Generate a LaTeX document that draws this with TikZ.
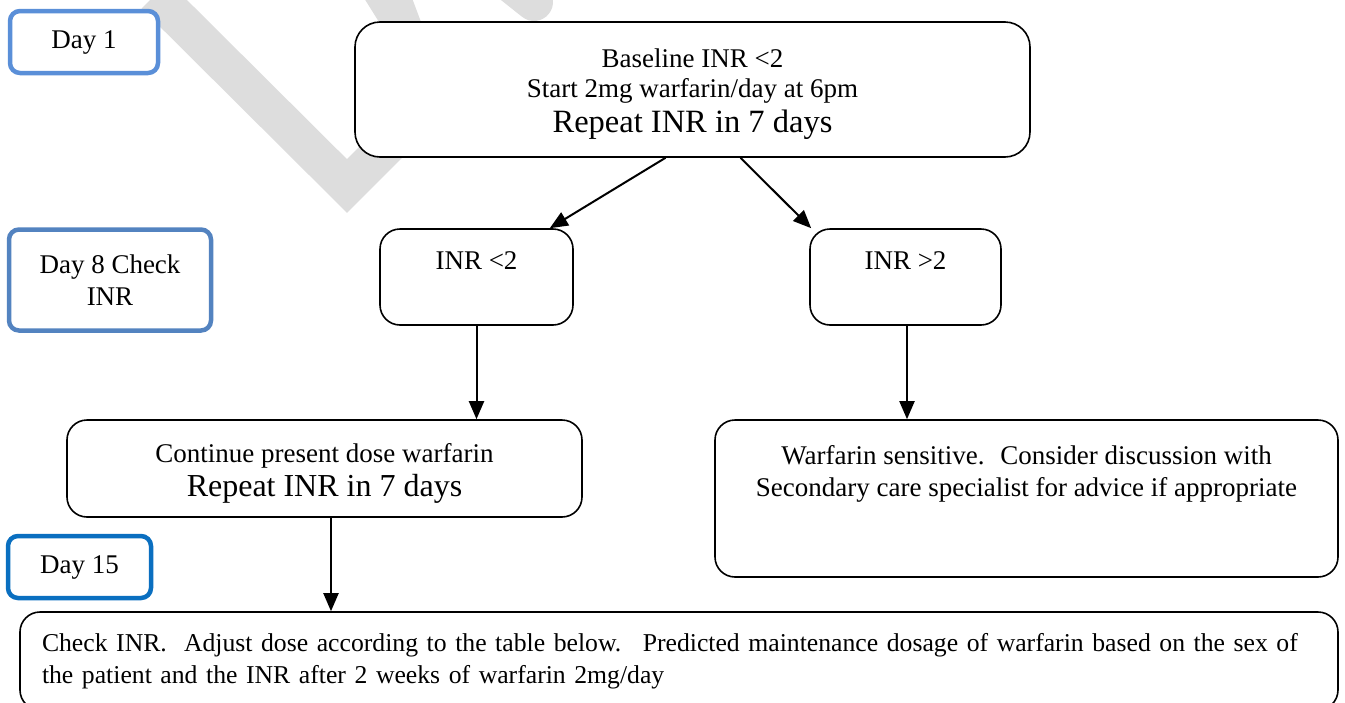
\documentclass[tikz,border=0pt]{standalone}
\usepackage{fontspec}
\setmainfont{Liberation Serif}
\usetikzlibrary{arrows.meta,calc}
\newcommand{\fsz}[1]{\fontsize{#1}{32pt}\selectfont}
\definecolor{dayone}{HTML}{5A8FD8}
\definecolor{dayeight}{HTML}{5383C0}
\definecolor{dayfifteen}{HTML}{0A6FC0}
\definecolor{wmark}{HTML}{DDDDDD}
\tikzset{
  daybox/.style={draw, line width=4.5pt, rounded corners=10pt, fill=white, align=center, inner sep=0pt, font=\fsz{27}},
  flowbox/.style={draw=black, line width=1.6pt, rounded corners=20pt, fill=white, align=center, inner sep=0pt, font=\fsz{27}},
  arr/.style={-{Triangle[length=18pt,width=15pt]}, line width=2pt},
  wm/.style={draw=wmark, line width=38pt}
}
\begin{document}
\begin{tikzpicture}[x=1pt,y=-1pt]
\useasboundingbox (0,0) rectangle (1345,702);
\clip (0,0) rectangle (1345,702);
% watermark fragments
\draw[wm, miter limit=10] (155,-5) -- (347,186) -- (440,93);
\fill[wmark] (364,-2) -- (412,-2) -- (424,30) -- (384,30) -- cycle;
\draw[wm, line cap=round] (500,-25) -- (534,2);
% day labels
\node[daybox, draw=dayone, minimum width=148pt, minimum height=62pt] (day1) at (84,42) {Day 1};
\node[daybox, draw=dayeight, minimum width=202pt, minimum height=101pt] (day8) at (110,280) {Day 8 Check\\INR};
\node[daybox, draw=dayfifteen, minimum width=143pt, minimum height=62pt] (day15) at (79.5,567) {Day 15};
% flow boxes
\node[flowbox, minimum width=675pt, minimum height=135pt, rounded corners=25pt] (base) at (692.5,89.5)
  {\rule{0pt}{29pt}Baseline INR <2\\[-2pt]Start 2mg warfarin/day at 6pm\\[3pt]{\fsz{32.5}Repeat INR in 7 days}};
\node[flowbox, minimum width=193pt, minimum height=96pt] (lt) at (476.5,277) {INR <2\\~};
\node[flowbox, minimum width=191pt, minimum height=96pt] (gt) at (905.5,277) {INR >2\\~};
\node[flowbox, minimum width=515pt, minimum height=97pt] (cont) at (324.5,468.5)
  {\rule{0pt}{28.7pt}Continue present dose warfarin\\[2pt]{\fsz{32}Repeat INR in 7 days}};
\node[flowbox, minimum width=623pt, minimum height=157pt] (warf) at (1026.5,498.5)
  {\rule{0pt}{27.7pt}Warfarin sensitive.~ Consider discussion with\\Secondary care specialist for advice if appropriate\\~\\~};
\node[flowbox, minimum width=1318pt, minimum height=98pt, inner xsep=22pt, text width=1274pt, align=left,
  font=\fsz{25.7}] (check) at (679,661)
  {\mbox{Check INR.~ Adjust dose according to the table below.~ Predicted maintenance dosage of warfarin based on the sex of}\\\mbox{the patient and the INR after 2 weeks of warfarin 2mg/day}};
% connectors
\draw[arr] ([xshift=-27pt]base.south) -- ([xshift=-24pt]lt.north east);
\draw[arr] ([xshift=48pt]base.south) -- ([xshift=2pt]gt.north west);
\draw[arr] (lt.south) -- (lt.south |- cont.north);
\draw[arr] ([xshift=1.5pt]gt.south) -- ([xshift=1.5pt]gt.south |- warf.north);
\draw[arr] ([xshift=6.5pt]cont.south) -- ([xshift=6.5pt]cont.south |- check.north);
\end{tikzpicture}
\end{document}
